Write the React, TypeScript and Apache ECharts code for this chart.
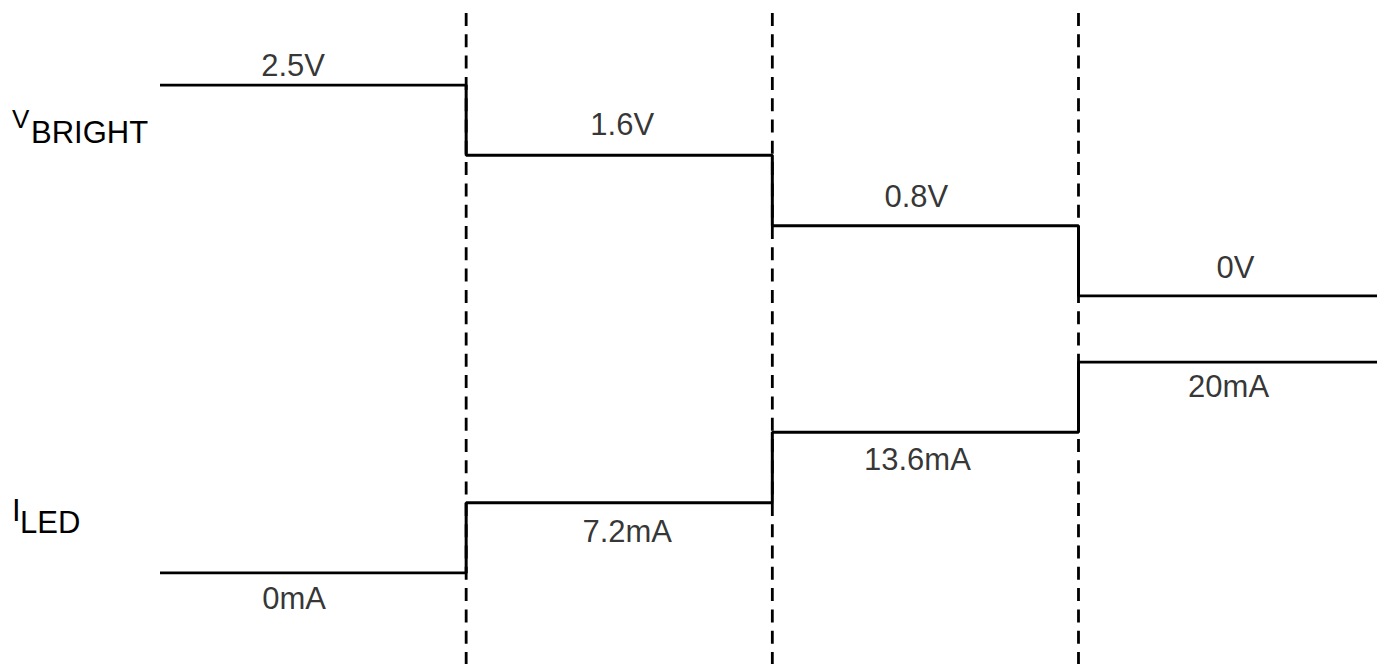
import React, { useEffect, useRef } from "react";
import * as echarts from "echarts";

// ---- data ----
const times = [0, 1, 2, 3, 4];
const transitionTimes = [1, 2, 3];
const vBright = [2.5, 1.6, 0.8, 0];
const iLed = [0, 7.2, 13.6, 20];
const vUnit = "V";
const iUnit = "mA";

// ---- layout tweaks for segment labels (pixels) ----
const vNudge: [number, number][] = [[-20, -19.5], [3, -30.5], [-9, -29.5], [4, -29]];
const iNudge: [number, number][] = [[-19, 25], [8, 29], [-8, 27], [-3, 24]];

const FONT = "'Liberation Sans', Arial, Helvetica, sans-serif";

const fmt = (v: number, u: string) => `${v}${u}`;

function stepData(levels: number[], unit: string) {
  return times.map((t, i) => [t, fmt(levels[Math.min(i, levels.length - 1)], unit)]);
}

function labelData(levels: number[], unit: string, nudge: [number, number][]) {
  return levels.map((v, i) => ({
    name: fmt(v, unit),
    value: [(times[i] + times[i + 1]) / 2, fmt(v, unit)],
    label: { offset: nudge[i] },
  }));
}

export default function App() {
  const ref = useRef<HTMLDivElement>(null);

  useEffect(() => {
    if (!ref.current) return;
    const chart = echarts.init(ref.current, undefined, { renderer: "svg" });

    const vCats = [...vBright].sort((a, b) => a - b).map((v) => fmt(v, vUnit));
    const iCats = [...iLed].sort((a, b) => a - b).map((v) => fmt(v, iUnit));

    const hiddenX = (gridIndex: number) => ({
      type: "value" as const,
      gridIndex,
      min: 0,
      max: 3.975,
      show: false,
    });

    const labelStyle = {
      show: true,
      position: "inside" as const,
      formatter: "{b}",
      fontSize: 31,
      fontFamily: FONT,
      color: "#000000",
      textBorderWidth: 0,
    };

    chart.setOption({
      animation: false,
      backgroundColor: "#ffffff",
      grid: [
        { left: 160, right: 0, top: 85, height: 211 },
        { left: 160, right: 0, top: 362, height: 211 },
        { left: 160, right: 0, top: 13, bottom: 0 },
      ],
      xAxis: [hiddenX(0), hiddenX(1), hiddenX(2)],
      yAxis: [
        { type: "category", gridIndex: 0, data: vCats, boundaryGap: false, show: false },
        { type: "category", gridIndex: 1, data: iCats, boundaryGap: false, show: false },
        { type: "value", gridIndex: 2, min: 0, max: 1, show: false },
      ],
      graphic: [
        {
          type: "text",
          x: 12,
          y: 118.5,
          style: { text: "V", fontSize: 26, fontFamily: FONT, fill: "#000", align: "left", verticalAlign: "middle" },
        },
        {
          type: "text",
          x: 31,
          y: 132,
          style: { text: "BRIGHT", fontSize: 31, fontFamily: FONT, fill: "#000", align: "left", verticalAlign: "middle" },
        },
        {
          type: "text",
          x: 12,
          y: 510,
          style: { text: "I", fontSize: 31, fontFamily: FONT, fill: "#000", align: "left", verticalAlign: "middle" },
        },
        {
          type: "text",
          x: 20,
          y: 522,
          style: { text: "LED", fontSize: 31, fontFamily: FONT, fill: "#000", align: "left", verticalAlign: "middle" },
        },
      ],
      series: [
        ...transitionTimes.map((t) => ({
          type: "line",
          xAxisIndex: 2,
          yAxisIndex: 2,
          data: [
            [t, 1],
            [t, 0],
          ],
          symbol: "none",
          silent: true,
          z: 1,
          lineStyle: { color: "#000", width: 2.8, type: [13, 8.3] },
        })),
        {
          type: "line",
          name: "VBRIGHT",
          xAxisIndex: 0,
          yAxisIndex: 0,
          step: "start",
          data: stepData(vBright, vUnit),
          symbol: "none",
          z: 3,
          lineStyle: { color: "#000", width: 3 },
        },
        {
          type: "line",
          name: "ILED",
          xAxisIndex: 1,
          yAxisIndex: 1,
          step: "start",
          data: stepData(iLed, iUnit),
          symbol: "none",
          z: 3,
          lineStyle: { color: "#000", width: 3 },
        },
        {
          type: "scatter",
          xAxisIndex: 0,
          yAxisIndex: 0,
          symbolSize: 1,
          itemStyle: { color: "rgba(0,0,0,0)" },
          data: labelData(vBright, vUnit, vNudge),
          label: labelStyle,
          z: 4,
        },
        {
          type: "scatter",
          xAxisIndex: 1,
          yAxisIndex: 1,
          symbolSize: 1,
          itemStyle: { color: "rgba(0,0,0,0)" },
          data: labelData(iLed, iUnit, iNudge),
          label: labelStyle,
          z: 4,
        },
      ],
    });

    return () => chart.dispose();
  }, []);

  return (
    <div
      ref={ref}
      style={{ position: "fixed", left: 0, top: 0, width: 1377, height: 664, background: "#fff" }}
    />
  );
}
